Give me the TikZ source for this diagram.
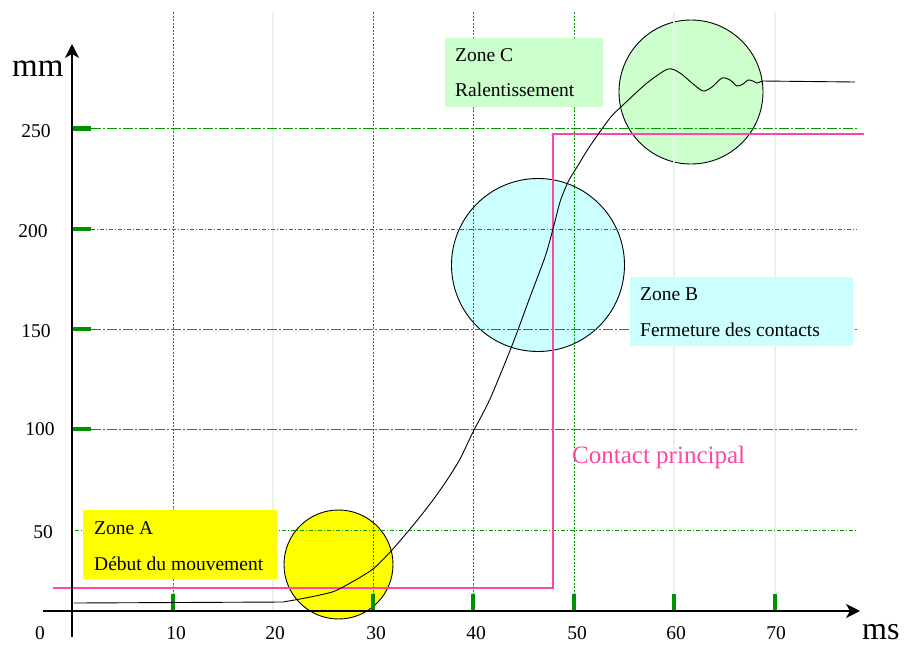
\documentclass[tikz,border=0pt]{standalone}
\usepackage{fontspec}
\setmainfont{Liberation Serif}
\usetikzlibrary{arrows.meta}
\definecolor{gridgreen}{RGB}{0,153,0}
\definecolor{tickgreen}{RGB}{0,145,0}
\definecolor{palegrid}{RGB}{232,243,234}
\definecolor{contactpink}{RGB}{255,70,160}
\definecolor{zoneayellow}{RGB}{255,255,0}
\definecolor{zonebcyan}{RGB}{204,255,255}
\definecolor{zonecgreen}{RGB}{204,255,204}
\tikzset{
  gridlong/.style={draw=gridgreen, line width=0.9pt, dash pattern=on 10pt off 2pt on 2pt off 2pt},
  gridfine/.style={draw=gridgreen, line width=0.9pt, dash pattern=on 4pt off 2pt on 1pt off 2pt},
  gridvert/.style={draw=gridgreen, line width=0.9pt, dash pattern=on 2pt off 1.5pt},
  gridpale/.style={draw=palegrid, line width=1.3pt},
  tickmark/.style={draw=tickgreen, line width=4.6pt},
  axisline/.style={line width=1.2pt, -{Stealth[length=14pt,width=14pt,inset=4pt]}},
  zonecircle/.style={draw=black, line width=0.9pt},
  lbl/.style={anchor=base, inner sep=0pt, font=\fontsize{19.5}{23}\selectfont},
  zonetext/.style={lbl, anchor=base west},
}
\begin{document}
\begin{tikzpicture}[x=1pt,y=-1pt]
\useasboundingbox (0,0) rectangle (905,646);
% zones
\draw[zonecircle, fill=zoneayellow] (338.5,564.5) circle (54.5);
\draw[zonecircle, fill=zonebcyan] (538,265) circle (86.5);
\draw[zonecircle, fill=zonecgreen] (691,92) circle (72);
% grid
\foreach \x in {273,674,775} \draw[gridpale] (\x,12) -- (\x,611);
\foreach \x in {173,373,473,574} \draw[gridvert] (\x,12) -- (\x,594);
\draw[gridlong] (91,128.5) -- (857,128.5);
\draw[gridfine] (91,229) -- (857,229);
\draw[gridlong] (91,329) -- (857,329);
\draw[gridlong] (91,429) -- (857,429);
\draw[gridfine] (75,530) -- (857,530);
% ticks
\foreach \y in {128.5,229,329,429} \draw[tickmark] (73,\y) -- (91,\y);
\foreach \x in {173,373,473,574,674,775} \draw[tickmark] (\x,594) -- (\x,611);
% boxes
\fill[zoneayellow] (83,510) rectangle (277,579);
\fill[zonebcyan] (630,277) rectangle (853,346);
\fill[zonecgreen] (445,38) rectangle (603,107);
\node[zonetext] (zoneA) at (94,534) {Zone A};
\node[zonetext] (zoneAtxt) at (94,570) {Début du mouvement};
\node[zonetext] (zoneB) at (640,300.5) {Zone B};
\node[zonetext] (zoneBtxt) at (640,336) {Fermeture des contacts};
\node[zonetext] (zoneC) at (455,61) {Zone C};
\node[zonetext] (zoneCtxt) at (455,96.5) {Ralentissement};
% contact principal
\draw[contactpink, line width=1.3pt] (53,588) -- (553,588) -- (553,134) -- (864,134);
\node[lbl, anchor=base west, text=contactpink, font=\fontsize{25}{30}\selectfont] (contact) at (572,463) {Contact principal};
% course
\draw[line width=0.9pt] (74,603) -- (283,602)
  plot[smooth, tension=0.45] coordinates {(283,602) (300,599) (320,595) (335,591) (352,582) (373,569) (392,550) (415,523) (433,500) (447,480) (460,459) (473,432) (490,399) (513,343) (530,297) (545,257) (553,229) (560,202) (568,182) (577,167) (590,146) (610,118) (623,105) (647,83) (668,69) (680,73) (692,83) (703,91) (712,87) (722,78) (730,80) (737,86) (743,84) (748,80) (753,81) (757,83) (762,81)}
  -- (855,82);
% axes
\draw[axisline] (43,611) -- (860,611);
\draw[axisline] (72,637) -- (72,44);
\node[lbl, anchor=base west, font=\fontsize{33}{36}\selectfont] (mm) at (12,76) {mm};
\node[lbl, anchor=base west, font=\fontsize{32}{36}\selectfont] (ms) at (862,639) {ms};
\node[lbl] (y250) at (36,137) {250};
\node[lbl] (y200) at (33,237) {200};
\node[lbl] (y150) at (36,337) {150};
\node[lbl] (y100) at (40,435) {100};
\node[lbl] (y50) at (43,538) {50};
\node[lbl] (x0) at (40,639) {0};
\node[lbl] (x10) at (176,639) {10};
\node[lbl] (x20) at (275,639) {20};
\node[lbl] (x30) at (376,639) {30};
\node[lbl] (x40) at (476,639) {40};
\node[lbl] (x50) at (577,639) {50};
\node[lbl] (x60) at (676,639) {60};
\node[lbl] (x70) at (776,639) {70};
\end{tikzpicture}
\end{document}
